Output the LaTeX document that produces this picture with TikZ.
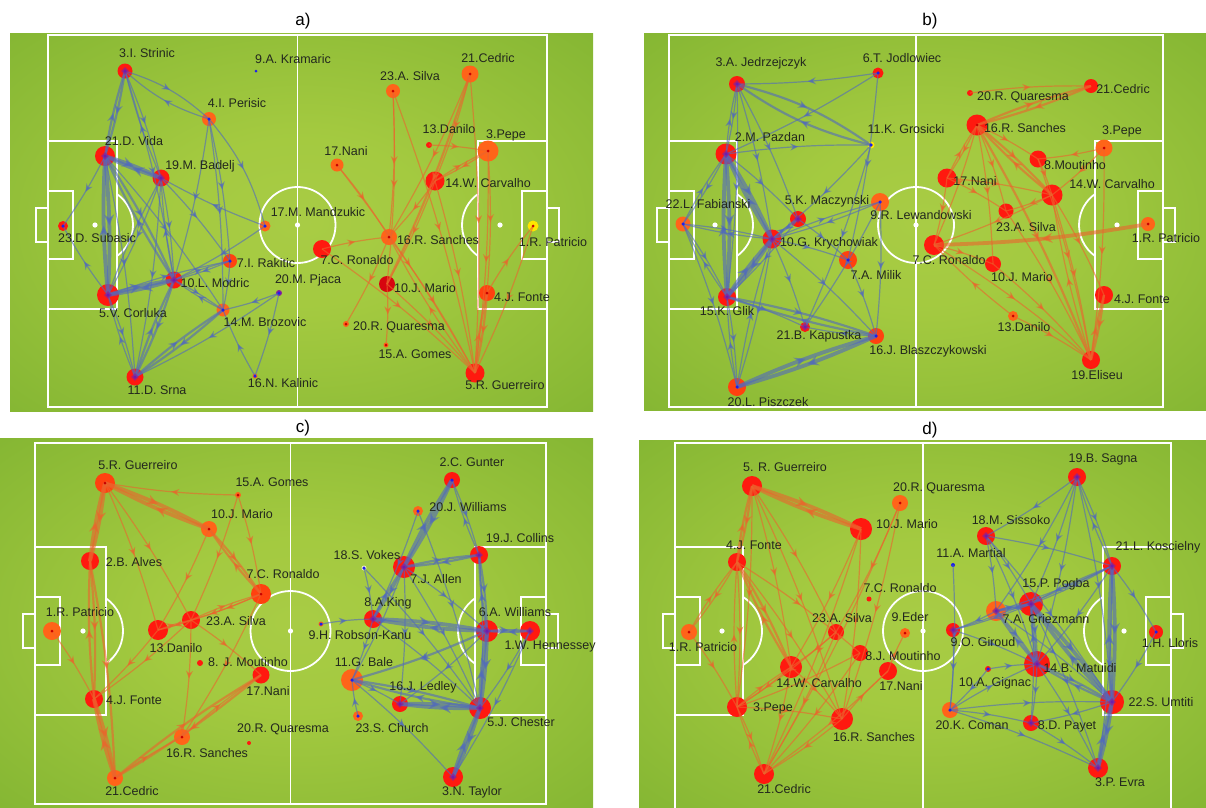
\documentclass[tikz,border=0pt]{standalone}
\usepackage{fontspec}
\setmainfont{Liberation Sans}
\usetikzlibrary{arrows.meta,decorations.markings}
\pgfdeclarelayer{bgl}\pgfdeclarelayer{circ}\pgfdeclarelayer{edg}
\pgfsetlayers{bgl,circ,edg,main}
\definecolor{pred}{RGB}{255,25,15}
\definecolor{porg}{RGB}{255,100,25}
\definecolor{porgb}{RGB}{255,65,15}
\definecolor{pdred}{RGB}{215,5,15}
\definecolor{pyel}{RGB}{255,230,0}
\definecolor{eblue}{RGB}{80,105,190}
\definecolor{eorg}{RGB}{235,100,45}
\definecolor{dotb}{RGB}{30,30,235}
\definecolor{purp}{RGB}{140,30,150}
\definecolor{dotr}{RGB}{200,0,0}
\definecolor{txtc}{RGB}{35,40,30}
\definecolor{vok}{RGB}{235,240,200}
\pgfdeclareradialshading{pitchsh}{\pgfpoint{0bp}{0bp}}{rgb(0bp)=(0.66,0.80,0.27); rgb(12bp)=(0.64,0.79,0.25); rgb(50bp)=(0.45,0.67,0.17); rgb(72bp)=(0.38,0.62,0.14)}
\tikzset{
 edgebase/.style n args={4}{draw=#1, line width=#2, opacity=0.6, postaction={decorate},
   decoration={markings, mark=at position 0.5 with {\arrow[#1]{Stealth[length=#3,width=#4]}}}},
 b1/.style={edgebase={eblue}{1.2pt}{8pt}{7pt}},
 b2/.style={edgebase={eblue}{2.2pt}{9pt}{8pt}},
 b3/.style={edgebase={eblue}{3.8pt}{11pt}{10pt}},
 o1/.style={edgebase={eorg}{1.2pt}{8pt}{7pt}},
 o2/.style={edgebase={eorg}{2.2pt}{9pt}{8pt}},
 o3/.style={edgebase={eorg}{3.8pt}{11pt}{10pt}},
 pn/.style={circle, inner sep=0pt, draw=none},
 bb/.style={circle, inner sep=0pt, minimum size=3.5pt, fill=dotb, draw=purp, draw opacity=0.7, line width=3pt},
 bs/.style={circle, inner sep=0pt, minimum size=3.5pt, fill=dotb},
 pd/.style={circle, inner sep=0pt, minimum size=3pt, fill=dotr},
 nd/.style={inner sep=0pt, minimum size=0pt},
 lab/.style={font=\fontsize{12.5}{14}\selectfont, text=txtc, inner sep=0pt},
 ttl/.style={font=\fontsize{17}{19}\selectfont, text=black, inner sep=0pt},
 pline/.style={draw=white, line width=1.8pt},
}
\newcommand\plr[9]{%
 \begin{pgfonlayer}{circ}\node[pn, fill=#5, minimum size=#4pt] (#1) at (#2,#3) {};\end{pgfonlayer}%
 \node[#6] (#1d) at (#2,#3) {};%
 \node[lab] (#1l) at (#7,#8) {#9};}
\newcommand\Ed[4][4]{\draw[#2] (#3.center) to[bend left=#1] (#4.center);}
\newcommand\Eb[4][4]{\Ed[#1]{#2}{#3}{#4}\Ed[#1]{#2}{#4}{#3}}
% #1 xL #2 xR #3 yT #4 yB #5 cy #6 box depth #7 spot dist #8 circle radius
\newcommand\drawpitch[8]{%
 \draw[pline] (#1,#4) -- (#1,#3) -- (#2,#3) -- (#2,#4) -- cycle;
 \draw[pline] ({(#1+#2)/2},#3) -- ({(#1+#2)/2},#4);
 \draw[pline] ({(#1+#2)/2},#5) circle[radius=#8];
 \fill[white] ({(#1+#2)/2},#5) circle[radius=2.6];
 \draw[pline] (#1,{#5-84}) rectangle ({#1+#6},{#5+84});
 \draw[pline] (#1,{#5-34}) rectangle ({#1+25},{#5+34});
 \draw[pline] (#1,{#5-17}) rectangle ({#1-12},{#5+17});
 \fill[white] ({#1+#7},#5) circle[radius=2.6];
 \draw[pline] ({#1+#7},#5) ++({-acos((#6-#7)/#8)}:#8) arc[start angle={-acos((#6-#7)/#8)}, end angle={acos((#6-#7)/#8)}, radius=#8];
 \draw[pline] (#2,{#5-84}) rectangle ({#2-#6},{#5+84});
 \draw[pline] (#2,{#5-34}) rectangle ({#2-25},{#5+34});
 \draw[pline] (#2,{#5-17}) rectangle ({#2+12},{#5+17});
 \fill[white] ({#2-#7},#5) circle[radius=2.6];
 \draw[pline] ({#2-#7},#5) ++({180-acos((#6-#7)/#8)}:#8) arc[start angle={180-acos((#6-#7)/#8)}, end angle={180+acos((#6-#7)/#8)}, radius=#8];
}
\begin{document}
\begin{tikzpicture}[x=1pt,y=-1pt]
\useasboundingbox (0,0) rectangle (1206,807);
\begin{pgfonlayer}{bgl}
\shade[shading=pitchsh] (10,33) rectangle (593,411);
\shade[shading=pitchsh] (644,33) rectangle (1206,410);
\shade[shading=pitchsh] (0,438) rectangle (593,807);
\shade[shading=pitchsh] (639,440) rectangle (1206,807);
\drawpitch{48}{547}{35}{407}{225}{69}{47}{38}
\drawpitch{669}{1163}{35}{407}{225}{68}{46}{38}
\drawpitch{35}{546}{443}{804}{631}{71}{48}{40}
\drawpitch{675}{1171}{443}{820}{631}{68}{47}{40}
\end{pgfonlayer}
\node[ttl] (ta) at (303,21) {a)};
\node[ttl] (tb) at (930,21) {b)};
\node[ttl] (tc) at (303,428) {c)};
\node[ttl] (td) at (930,430) {d)};
% ---------- panel a
\plr{aStr}{125}{71}{15}{pred}{bb}{147}{53}{3.I. Strinic}
\plr{aKra}{256}{71}{3}{dotb}{nd}{293}{59}{9.A. Kramaric}
\plr{aPer}{209}{119}{14}{porg}{bs}{237}{103}{4.I. Perisic}
\plr{aVid}{105}{156}{20}{pred}{bb}{134}{141}{21.D. Vida}
\plr{aBad}{161}{178}{17}{pred}{bb}{200}{166}{19.M. Badelj}
\plr{aMan}{265}{226}{11}{porg}{bs}{318}{212}{17.M. Mandzukic}
\plr{aSub}{63}{226}{10}{pred}{bs}{97}{238}{23.D. Subasic}
\plr{aRak}{230}{261}{14}{porgb}{bs}{266}{263}{7.I. Rakitic}
\plr{aMod}{174}{280}{17}{pred}{bb}{215}{283}{10.L. Modric}
\plr{aCor}{108}{295}{22}{pred}{bb}{133}{313}{5.V. Corluka}
\plr{aPja}{279}{293}{6}{purp}{bs}{308}{280}{20.M. Pjaca}
\plr{aBro}{223}{310}{13}{porg}{bs}{265}{322}{14.M. Brozovic}
\plr{aSrn}{135}{377}{17}{pred}{bb}{157}{390}{11.D. Srna}
\plr{aKal}{255}{376}{5}{porg}{bs}{283}{383}{16.N. Kalinic}
\plr{aCed}{470}{74}{17}{porg}{pd}{488}{58}{21.Cedric}
\plr{aSil}{393}{91}{14}{porg}{pd}{410}{76}{23.A. Silva}
\plr{aDan}{429}{145}{6}{pred}{nd}{449}{129}{13.Danilo}
\plr{aPep}{488}{151}{21}{porg}{pd}{506}{135}{3.Pepe}
\plr{aNan}{337}{165}{13}{porg}{pd}{346}{151}{17.Nani}
\plr{aCar}{435}{181}{19}{pred}{nd}{488}{183}{14.W. Carvalho}
\plr{aSan}{389}{237}{16}{porg}{pd}{438}{240}{16.R. Sanches}
\plr{aPat}{533}{226}{11}{pyel}{pd}{553}{242}{1.R. Patricio}
\plr{aRon}{322}{249}{18}{pred}{nd}{357}{260}{7.C. Ronaldo}
\plr{aMar}{387}{284}{16}{pdred}{nd}{425}{288}{10.J. Mario}
\plr{aFon}{487}{293}{16}{porgb}{pd}{522}{297}{4.J. Fonte}
\plr{aQua}{346}{324}{6}{porg}{pd}{399}{327}{20.R. Quaresma}
\plr{aGom}{386}{345}{5}{porg}{pd}{415}{354}{15.A. Gomes}
\plr{aGue}{475}{373}{19}{pred}{nd}{505}{385}{5.R. Guerreiro}
% ---------- panel b
\plr{bJed}{737}{84}{16}{pred}{bb}{761}{63}{3.A. Jedrzejczyk}
\plr{bJod}{878}{73}{11}{pred}{bs}{902}{58}{6.T. Jodlowiec}
\plr{bGro}{871}{145}{7}{pyel}{bs}{906}{129}{11.K. Grosicki}
\plr{bPaz}{726}{154}{21}{pred}{bb}{770}{137}{2.M. Pazdan}
\plr{bMac}{798}{219}{16}{pred}{bb}{827}{201}{5.K. Maczynski}
\plr{bLew}{880}{202}{18}{porg}{bs}{921}{215}{9.R. Lewandowski}
\plr{bFab}{683}{224}{15}{porg}{bs}{708}{204}{22.L. Fabianski}
\plr{bKry}{772}{239}{19}{pred}{bb}{829}{243}{10.G. Krychowiak}
\plr{bMil}{848}{260}{18}{porgb}{bs}{876}{275}{7.A. Milik}
\plr{bGli}{727}{297}{18}{pred}{bb}{727}{311}{15.K. Glik}
\plr{bKap}{805}{327}{10}{pred}{bb}{819}{336}{21.B. Kapustka}
\plr{bBla}{876}{336}{16}{porgb}{bs}{928}{351}{16.J. Blaszczykowski}
\plr{bPis}{737}{387}{18}{porgb}{bs}{768}{402}{20.L. Piszczek}
\plr{bQua}{970}{93}{6}{pred}{nd}{1023}{97}{20.R. Quaresma}
\plr{bCed}{1091}{86}{14}{pred}{nd}{1123}{89}{21.Cedric}
\plr{bSan}{977}{125}{21}{pred}{pd}{1025}{128}{16.R. Sanches}
\plr{bPep}{1104}{148}{17}{porg}{pd}{1122}{131}{3.Pepe}
\plr{bMou}{1038}{159}{17}{pred}{nd}{1075}{165}{8.Moutinho}
\plr{bNan}{947}{178}{19}{pred}{nd}{975}{181}{17.Nani}
\plr{bCar}{1052}{195}{21}{pred}{nd}{1112}{184}{14.W. Carvalho}
\plr{bSil}{1006}{211}{15}{pred}{nd}{1026}{227}{23.A. Silva}
\plr{bPat}{1148}{224}{14}{porg}{pd}{1166}{238}{1.R. Patricio}
\plr{bRon}{934}{245}{20}{pred}{nd}{949}{260}{7.C. Ronaldo}
\plr{bMar}{993}{264}{16}{pred}{nd}{1022}{277}{10.J. Mario}
\plr{bFon}{1104}{295}{18}{pred}{nd}{1142}{299}{4.J. Fonte}
\plr{bDan}{1013}{316}{10}{porg}{pd}{1024}{327}{13.Danilo}
\plr{bEli}{1091}{360}{18}{pred}{nd}{1097}{375}{19.Eliseu}
% ---------- panel c
\plr{cGue}{105}{483}{20}{porgb}{pd}{138}{465}{5.R. Guerreiro}
\plr{cGom}{238}{495}{6}{porg}{pd}{272}{482}{15.A. Gomes}
\plr{cMar}{209}{529}{16}{porg}{pd}{242}{514}{10.J. Mario}
\plr{cAlv}{90}{561}{18}{pred}{nd}{134}{562}{2.B. Alves}
\plr{cRon}{261}{594}{20}{porgb}{pd}{283}{574}{7.C. Ronaldo}
\plr{cPat}{52}{631}{18}{porg}{pd}{80}{612}{1.R. Patricio}
\plr{cSil}{191}{620}{18}{pred}{nd}{236}{621}{23.A. Silva}
\plr{cDan}{158}{630}{20}{pred}{nd}{176}{648}{13.Danilo}
\plr{cMou}{200}{663}{6}{pred}{nd}{248}{662}{8. J. Moutinho}
\plr{cNan}{261}{675}{17}{pred}{nd}{268}{691}{17.Nani}
\plr{cFon}{94}{699}{18}{pred}{nd}{134}{700}{4.J. Fonte}
\plr{cQua}{249}{743}{4}{pred}{nd}{283}{729}{20.R. Quaresma}
\plr{cSan}{182}{737}{16}{porg}{pd}{207}{753}{16.R. Sanches}
\plr{cCed}{115}{778}{16}{porg}{pd}{132}{791}{21.Cedric}
\plr{cGun}{452}{480}{16}{pred}{bs}{472}{462}{2.C. Gunter}
\plr{cWil}{418}{511}{10}{porg}{bs}{468}{507}{20.J. Williams}
\plr{cCol}{479}{555}{18}{pred}{bb}{520}{538}{19.J. Collins}
\plr{cVok}{364}{568}{5}{vok}{bs}{367}{555}{18.S. Vokes}
\plr{cAll}{404}{567}{22}{pred}{bb}{436}{579}{7.J. Allen}
\plr{cKin}{373}{619}{18}{pred}{bb}{388}{603}{8.A.King}
\plr{cRob}{321}{624}{5}{porg}{bs}{360}{635}{9.H. Robson-Kanu}
\plr{cAWi}{487}{631}{22}{pred}{bb}{515}{612}{6.A. Williams}
\plr{cHen}{530}{631}{20}{pred}{bb}{550}{646}{1.W. Hennessey}
\plr{cBal}{352}{680}{22}{porg}{bs}{364}{662}{11.G. Bale}
\plr{cLed}{400}{704}{16}{pred}{bb}{423}{687}{16.J. Ledley}
\plr{cChe}{480}{708}{22}{pred}{bb}{521}{722}{5.J. Chester}
\plr{cChu}{358}{716}{10}{porg}{bs}{392}{728}{23.S. Church}
\plr{cTay}{453}{777}{20}{pred}{bb}{472}{792}{3.N. Taylor}
% ---------- panel d
\plr{dGue}{752}{486}{20}{pred}{nd}{785}{467}{5. R. Guerreiro}
\plr{dQua}{900}{503}{16}{porg}{pd}{939}{488}{20.R. Quaresma}
\plr{dMar}{861}{529}{22}{pred}{nd}{907}{524}{10.J. Mario}
\plr{dFon}{737}{562}{18}{pred}{nd}{754}{545}{4.J. Fonte}
\plr{dRon}{869}{599}{5}{pred}{nd}{900}{588}{7.C. Ronaldo}
\plr{dSil}{836}{632}{16}{pred}{nd}{842}{618}{23.A. Silva}
\plr{dEde}{905}{633}{10}{porg}{pd}{910}{617}{9.Eder}
\plr{dPat}{689}{632}{16}{porg}{pd}{703}{647}{1.R. Patricio}
\plr{dMou}{860}{653}{16}{pred}{nd}{903}{656}{8.J. Moutinho}
\plr{dCar}{791}{667}{22}{pred}{nd}{819}{683}{14.W. Carvalho}
\plr{dNan}{888}{671}{18}{pred}{nd}{901}{686}{17.Nani}
\plr{dPep}{737}{707}{20}{pred}{nd}{773}{708}{3.Pepe}
\plr{dSan}{842}{719}{22}{pred}{nd}{874}{737}{16.R. Sanches}
\plr{dCed}{764}{774}{20}{pred}{nd}{784}{789}{21.Cedric}
\plr{dSag}{1077}{477}{18}{pred}{bb}{1103}{459}{19.B. Sagna}
\plr{dSis}{986}{536}{18}{pred}{bb}{1011}{520}{18.M. Sissoko}
\plr{dMtl}{953}{565}{4}{dotb}{nd}{971}{553}{11.A. Martial}
\plr{dKos}{1112}{566}{18}{pred}{bb}{1158}{547}{21.L. Koscielny}
\plr{dPog}{1031}{604}{24}{pred}{bb}{1056}{584}{15.P. Pogba}
\plr{dGri}{996}{611}{20}{porg}{bb}{1046}{619}{7.A. Griezmann}
\plr{dGir}{953}{630}{14}{pred}{bb}{983}{642}{9.O. Giroud}
\plr{dLlo}{1156}{632}{14}{pred}{bs}{1170}{643}{1.H. Lloris}
\plr{dMtu}{1037}{664}{26}{pred}{bb}{1080}{668}{14.B. Matuidi}
\plr{dGig}{988}{669}{6}{pred}{bs}{995}{683}{10.A. Gignac}
\plr{dUmt}{1112}{702}{24}{pred}{bb}{1161}{702}{22.S. Umtiti}
\plr{dCom}{950}{710}{16}{porg}{bs}{972}{725}{20.K. Coman}
\plr{dPay}{1031}{723}{16}{pred}{bb}{1067}{726}{8.D. Payet}
\plr{dEvr}{1098}{768}{20}{pred}{bb}{1120}{782}{3.P. Evra}
% ---------- edges
\begin{pgfonlayer}{edg}
% a blue
\Eb{b2}{aStr}{aVid}\Eb{b1}{aStr}{aBad}\Ed{b1}{aStr}{aMod}
\Eb[12]{b1}{aStr}{aPer}\Ed[12]{b1}{aPer}{aMan}
\Ed{b1}{aPer}{aMod}\Ed{b1}{aPer}{aRak}\Ed{b1}{aPer}{aBro}
\Eb{b3}{aVid}{aBad}\Eb{b3}{aVid}{aCor}\Eb{b2}{aVid}{aMod}
\Ed{b1}{aVid}{aSrn}\Ed{b1}{aVid}{aSub}\Ed{b1}{aVid}{aBro}
\Eb{b1}{aBad}{aMod}\Eb{b1}{aBad}{aCor}\Ed{b1}{aBad}{aSrn}\Ed{b1}{aBad}{aRak}
\Eb{b3}{aCor}{aMod}\Eb{b1}{aCor}{aSrn}\Ed{b1}{aCor}{aSub}\Ed{b1}{aCor}{aRak}
\Eb{b2}{aMod}{aSrn}\Eb{b1}{aMod}{aRak}\Eb{b1}{aMod}{aBro}
\Eb{b2}{aSrn}{aBro}\Ed{b1}{aPja}{aBro}\Ed{b1}{aPja}{aKal}\Ed{b1}{aPja}{aSrn}
\Ed{b1}{aKal}{aBro}\Ed{b1}{aRak}{aBro}\Ed{b1}{aMan}{aMod}\Ed{b1}{aMan}{aBad}
% a orange
\Ed{o1}{aSil}{aSan}\Ed{o1}{aSil}{aMar}\Ed{o1}{aSil}{aGue}
\Ed{o1}{aCed}{aSan}\Ed{o2}{aCed}{aMar}\Ed{o1}{aCed}{aCar}\Ed{o1}{aCed}{aGue}
\Ed{o1}{aDan}{aPep}\Eb{o1}{aPep}{aCar}\Ed{o1}{aPep}{aFon}\Ed{o1}{aPep}{aGue}
\Ed{o1}{aNan}{aSan}\Ed{o1}{aNan}{aGue}
\Ed{o1}{aCar}{aSan}\Ed{o1}{aCar}{aGue}\Ed{o1}{aCar}{aMar}
\Eb{o1}{aSan}{aGue}\Ed{o1}{aSan}{aQua}\Ed{o1}{aRon}{aGue}\Ed{o1}{aRon}{aSan}
\Ed{o1}{aMar}{aGue}\Ed{o1}{aMar}{aGom}\Eb{o2}{aFon}{aGue}\Ed{o1}{aFon}{aPat}\Ed{o1}{aPat}{aGue}
% b blue
\Ed{b1}{bJod}{bJed}\Eb[10]{b2}{bJed}{bGro}\Eb{b1}{bJed}{bPaz}\Ed{b1}{bJed}{bKry}
\Ed{b1}{bJed}{bGli}\Ed{b1}{bJed}{bMac}\Ed{b1}{bJod}{bMil}\Ed{b1}{bJod}{bPaz}
\Ed{b1}{bPaz}{bGro}\Eb{b3}{bPaz}{bKry}\Eb{b3}{bPaz}{bGli}\Eb{b1}{bPaz}{bFab}\Ed{b1}{bPaz}{bMac}
\Ed{b1}{bGro}{bKry}\Ed{b1}{bGro}{bKap}\Eb{b1}{bMac}{bKry}\Ed{b1}{bMac}{bGli}\Ed{b1}{bMac}{bMil}
\Eb{b1}{bLew}{bKry}\Ed{b1}{bLew}{bBla}\Ed{b1}{bLew}{bKap}
\Eb{b1}{bFab}{bKry}\Eb{b1}{bFab}{bGli}\Ed{b1}{bFab}{bPis}
\Eb{b3}{bKry}{bGli}\Eb{b1}{bKry}{bPis}\Ed{b1}{bKry}{bMil}\Ed{b1}{bKry}{bBla}\Ed{b1}{bKry}{bKap}
\Eb{b2}{bGli}{bBla}\Eb{b1}{bGli}{bPis}\Ed{b1}{bGli}{bKap}
\Eb{b3}{bPis}{bBla}\Ed{b1}{bBla}{bKap}\Ed{b1}{bMil}{bBla}
% b orange
\Ed{o1}{bQua}{bCed}\Eb{o2}{bCed}{bSan}\Eb{o1}{bSan}{bNan}\Ed{o1}{bSan}{bMou}
\Eb{o2}{bSan}{bCar}\Ed{o1}{bSan}{bSil}\Ed{o1}{bSan}{bRon}\Ed{o2}{bSan}{bEli}\Ed{o1}{bSan}{bMar}
\Ed{o1}{bPep}{bMou}\Ed{o1}{bPep}{bCar}\Ed{o1}{bPep}{bEli}
\Ed{o1}{bNan}{bCar}\Ed{o1}{bNan}{bRon}\Ed{o1}{bNan}{bSil}
\Ed{o1}{bMou}{bCar}\Ed{o1}{bMou}{bEli}
\Ed{o1}{bCar}{bSil}\Ed{o1}{bCar}{bFon}\Eb{o1}{bCar}{bEli}\Ed{o1}{bCar}{bRon}
\Ed{o3}{bPat}{bRon}\Ed{o1}{bRon}{bMar}\Ed{o1}{bRon}{bEli}\Ed{o1}{bDan}{bRon}
\Ed{o1}{bMar}{bEli}\Ed{o1}{bDan}{bEli}\Eb{o2}{bFon}{bEli}\Ed{o1}{bSil}{bEli}
% c orange
\Eb{o3}{cGue}{cAlv}\Eb{o3}{cGue}{cMar}\Ed{o1}{cGom}{cGue}\Ed{o1}{cGue}{cSil}\Ed{o1}{cGue}{cDan}
\Ed{o1}{cGom}{cRon}\Ed{o1}{cGom}{cSil}\Eb{o2}{cMar}{cRon}\Ed{o1}{cMar}{cDan}
\Eb{o2}{cAlv}{cFon}\Ed{o2}{cAlv}{cCed}\Eb{o1}{cRon}{cSil}\Ed{o1}{cRon}{cDan}\Ed{o1}{cRon}{cSan}
\Ed{o1}{cPat}{cFon}\Ed{o1}{cSil}{cFon}\Eb{o1}{cSil}{cDan}\Ed{o1}{cSil}{cSan}\Ed{o1}{cSil}{cNan}
\Ed{o1}{cDan}{cFon}\Eb{o3}{cFon}{cCed}\Eb{o2}{cCed}{cNan}\Ed{o1}{cCed}{cSan}\Ed{o1}{cSan}{cNan}
% c blue
\Eb{b3}{cGun}{cAll}\Eb{b1}{cGun}{cCol}\Ed{b1}{cWil}{cKin}\Ed{b1}{cWil}{cChe}
\Eb{b2}{cCol}{cAll}\Eb{b2}{cCol}{cAWi}\Ed{b1}{cCol}{cChe}\Ed{b1}{cVok}{cKin}\Ed{b1}{cVok}{cChe}
\Eb{b2}{cAll}{cKin}\Ed{b1}{cAll}{cAWi}\Ed{b1}{cAll}{cLed}\Ed{b1}{cAll}{cBal}\Ed{b1}{cAll}{cChe}
\Ed{b1}{cRob}{cKin}\Eb{b3}{cKin}{cAWi}\Ed{b1}{cKin}{cBal}\Ed{b1}{cKin}{cChe}
\Eb{b2}{cAWi}{cHen}\Eb{b3}{cAWi}{cChe}\Ed{b2}{cAWi}{cBal}\Ed{b1}{cAWi}{cLed}
\Ed{b1}{cHen}{cChe}\Ed{b1}{cHen}{cTay}\Eb{b2}{cBal}{cChe}\Ed{b1}{cBal}{cLed}\Ed{b1}{cBal}{cTay}
\Eb{b3}{cLed}{cChe}\Eb{b3}{cChe}{cTay}\Ed{b1}{cChu}{cBal}
% d orange
\Eb{o3}{dGue}{dMar}\Eb{o2}{dGue}{dFon}\Ed{o1}{dGue}{dSil}\Ed{o1}{dGue}{dCar}\Ed{o1}{dGue}{dSan}\Ed{o1}{dGue}{dPep}
\Ed{o1}{dQua}{dCed}\Ed{o1}{dQua}{dSil}\Ed{o1}{dQua}{dSan}
\Ed{o1}{dMar}{dCar}\Ed{o1}{dMar}{dCed}\Ed{o1}{dMar}{dSan}
\Eb{o1}{dFon}{dPat}\Eb{o1}{dFon}{dPep}\Eb{o2}{dFon}{dCar}\Ed{o1}{dFon}{dMou}\Ed{o1}{dFon}{dSan}
\Ed{o1}{dPat}{dPep}\Ed{o1}{dSil}{dCed}\Ed{o1}{dSil}{dCar}\Ed{o1}{dSil}{dPep}
\Ed{o1}{dMou}{dCed}\Ed{o1}{dMou}{dPep}\Eb{o1}{dCar}{dPep}\Ed{o1}{dCar}{dCed}\Ed{o1}{dCar}{dSan}
\Ed{o1}{dNan}{dEde}\Ed{o1}{dNan}{dCed}\Eb{o1}{dPep}{dCed}\Ed{o1}{dPep}{dSan}\Ed{o1}{dSan}{dCed}\Ed{o1}{dSan}{dNan}
% d blue
\Ed{b1}{dSag}{dSis}\Eb{b1}{dSag}{dKos}\Ed{b1}{dSag}{dPog}\Ed{b1}{dSag}{dGri}\Ed{b1}{dSag}{dMtu}\Ed{b1}{dSag}{dUmt}
\Ed{b1}{dSis}{dKos}\Ed{b1}{dSis}{dPog}\Ed{b1}{dSis}{dMtu}\Ed{b1}{dSis}{dGri}\Ed{b1}{dSis}{dUmt}
\Ed{b1}{dMtl}{dCom}\Eb{b3}{dKos}{dUmt}\Ed{b1}{dKos}{dLlo}\Eb{b1}{dKos}{dPog}\Ed{b1}{dKos}{dGri}
\Ed{b1}{dKos}{dMtu}\Ed{b1}{dKos}{dEvr}\Ed{b1}{dKos}{dGir}
\Eb{b2}{dPog}{dGri}\Eb{b2}{dPog}{dMtu}\Eb{b3}{dPog}{dUmt}\Ed{b1}{dPog}{dGir}\Ed{b1}{dPog}{dEvr}\Ed{b1}{dPog}{dPay}
\Ed{b1}{dGri}{dGir}\Eb{b2}{dGri}{dMtu}\Ed{b1}{dGri}{dUmt}
\Ed{b1}{dGir}{dCom}\Ed{b1}{dGir}{dMtu}\Ed{b1}{dGig}{dMtu}\Ed{b1}{dLlo}{dUmt}
\Eb{b2}{dMtu}{dUmt}\Ed{b1}{dMtu}{dEvr}\Ed{b1}{dMtu}{dPay}\Ed{b1}{dCom}{dMtu}
\Ed{b1}{dGig}{dCom}\Ed{b1}{dCom}{dUmt}\Eb{b3}{dUmt}{dEvr}\Ed{b1}{dUmt}{dPay}
\Ed{b1}{dCom}{dPay}\Ed{b1}{dCom}{dEvr}\Ed{b1}{dPay}{dEvr}
\end{pgfonlayer}
\end{tikzpicture}
\end{document}
